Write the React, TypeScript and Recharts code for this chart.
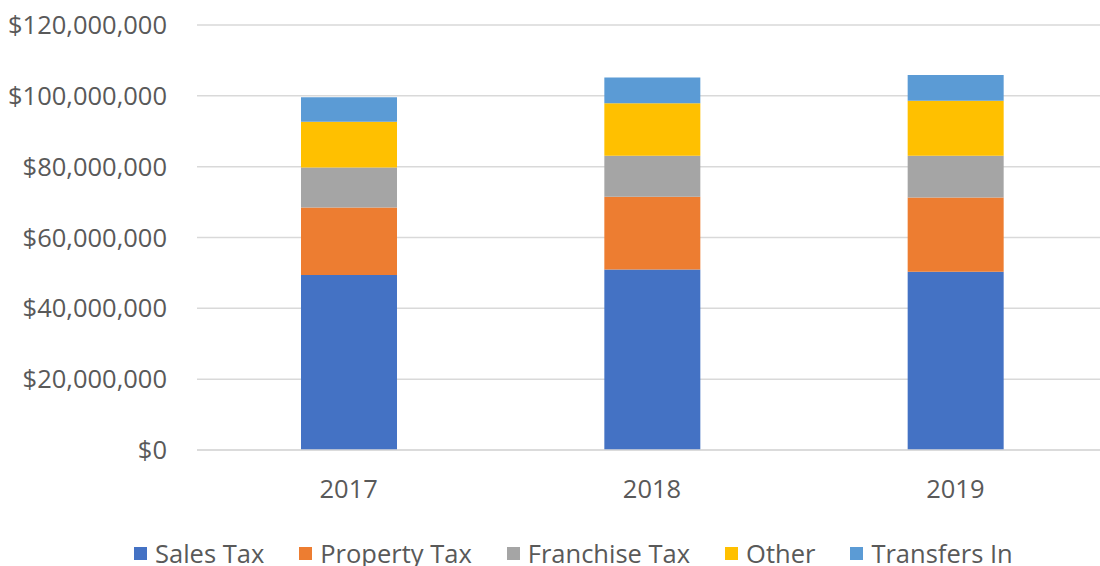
import { BarChart, Bar, XAxis, YAxis, CartesianGrid, Legend } from "recharts";

const years = ["2017", "2018", "2019"];
const salesTax = [49.4, 51.0, 50.3];
const propertyTax = [19.1, 20.5, 21.0];
const franchiseTax = [11.3, 11.6, 11.8];
const other = [12.9, 14.8, 15.5];
const transfersIn = [6.9, 7.3, 7.3];
const yTicks = [0, 20, 40, 60, 80, 100, 120];

const series = [
  { key: "sales", name: "Sales Tax", color: "#4472C4", values: salesTax },
  { key: "property", name: "Property Tax", color: "#ED7D31", values: propertyTax },
  { key: "franchise", name: "Franchise Tax", color: "#A5A5A5", values: franchiseTax },
  { key: "other", name: "Other", color: "#FFC000", values: other },
  { key: "transfers", name: "Transfers In", color: "#5B9BD5", values: transfersIn },
];

const data = years.map((year, i) => {
  const row: Record<string, string | number> = { year };
  series.forEach((s) => { row[s.key] = s.values[i] * 1_000_000; });
  return row;
});

const FONT = "'Open Sans', sans-serif";
const TEXT = "#595959";
const FS = 25.5;

function fmtMoney(v: number) {
  return "$" + v.toLocaleString("en-US");
}

function LegendRow() {
  return (
    <div style={{ display: "flex", gap: 35, fontFamily: FONT, fontSize: FS, lineHeight: "28px", color: TEXT, whiteSpace: "nowrap" }}>
      {series.map((s) => (
        <div key={s.key} style={{ display: "flex", alignItems: "center" }}>
          <span style={{ display: "inline-block", width: 13, height: 13, background: s.color, marginRight: 8 }} />
          <span>{s.name}</span>
        </div>
      ))}
    </div>
  );
}

export default function App() {
  return (
    <div style={{ position: "absolute", left: 0, top: 0, width: 1100, height: 566, overflow: "hidden", background: "#fff" }}>
      <BarChart width={1110} height={566} data={data} margin={{ top: 25, right: 3, bottom: 58, left: 0 }} barSize={96}>
        <CartesianGrid vertical={false} stroke="#D9D9D9" strokeWidth={1.5} />
        <XAxis
          dataKey="year"
          axisLine={{ stroke: "#D9D9D9", strokeWidth: 1.5 }}
          tickLine={false}
          tickMargin={24}
          tick={{ fill: TEXT, fontSize: FS, fontFamily: FONT }}
        />
        <YAxis
          width={197}
          domain={[0, 120_000_000]}
          ticks={yTicks.map((t) => t * 1_000_000)}
          axisLine={false}
          tickLine={false}
          tickMargin={24}
          tickFormatter={fmtMoney}
          tick={{ fill: TEXT, fontSize: FS, fontFamily: FONT }}
        />
        <Legend content={<LegendRow />} wrapperStyle={{ left: 134, top: 539, width: "auto", height: 28 }} />
        {series.map((s) => (
          <Bar key={s.key} dataKey={s.key} name={s.name} stackId="a" fill={s.color} isAnimationActive={false} />
        ))}
      </BarChart>
    </div>
  );
}
